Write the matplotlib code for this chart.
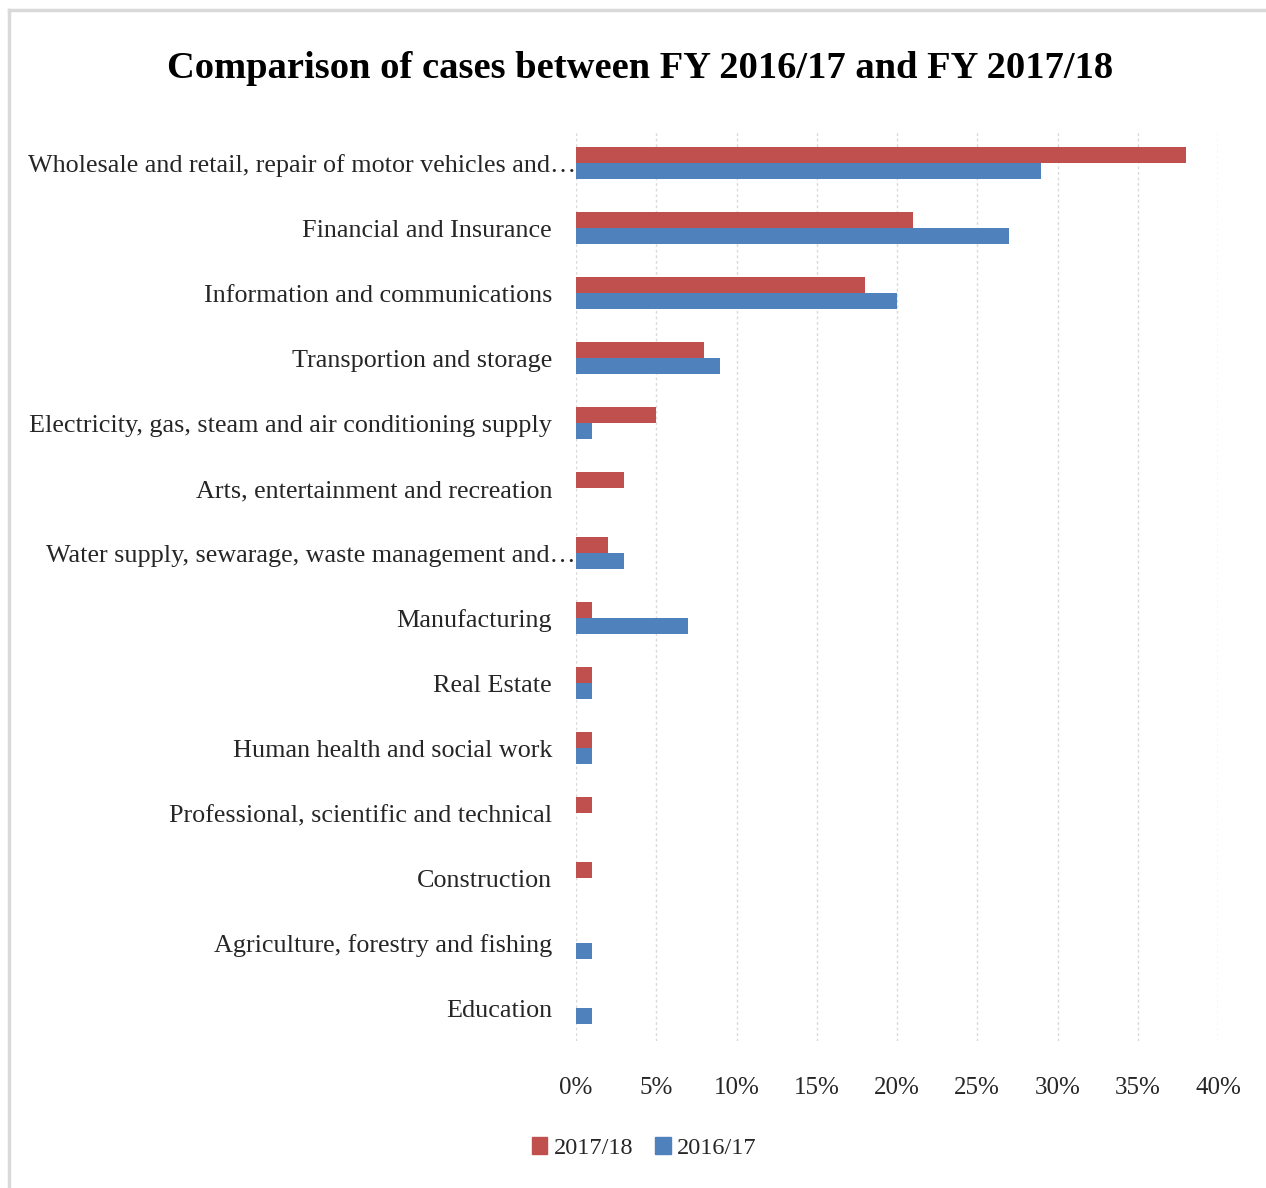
import matplotlib
matplotlib.use("Agg")
import matplotlib.pyplot as plt
import matplotlib.transforms as mtransforms
from matplotlib.lines import Line2D
from matplotlib.patches import Patch
import numpy as np

categories = [
    "Wholesale and retail, repair of motor vehicles and…",
    "Financial and Insurance",
    "Information and communications",
    "Transportion and storage",
    "Electricity, gas, steam and air conditioning supply",
    "Arts, entertainment and recreation",
    "Water supply, sewarage, waste management and…",
    "Manufacturing",
    "Real Estate",
    "Human health and social work",
    "Professional, scientific and technical",
    "Construction",
    "Agriculture, forestry and fishing",
    "Education",
]
truncated = [True, False, False, False, False, False, True, False, False, False, False, False, False, False]
fy1718 = [38, 21, 18, 8, 5, 3, 2, 1, 1, 1, 1, 1, 0, 0]
fy1617 = [29, 27, 20, 9, 1, 0, 3, 7, 1, 1, 0, 0, 1, 1]
xticks = [0, 5, 10, 15, 20, 25, 30, 35, 40]
xticklabels = ["0%", "5%", "10%", "15%", "20%", "25%", "30%", "35%", "40%"]

RED = "#C0504D"
BLUE = "#4F81BD"
FONT = "Liberation Serif"

fig = plt.figure(figsize=(12.66, 11.88), dpi=100)
fig.patch.set_facecolor("white")

# light border lines
fig.add_artist(Line2D([9/1266, 1], [1-10/1188, 1-10/1188], color="#D9D9D9", lw=2.5, transform=fig.transFigure))
fig.add_artist(Line2D([9/1266, 9/1266], [0, 1-10/1188], color="#D9D9D9", lw=2.5, transform=fig.transFigure))

ax = fig.add_axes([576/1266, 1-1040.5/1188, (1218-576)/1266, (1040.5-130.5)/1188])

y = np.arange(len(categories))
h = 0.25
ax.barh(y - h/2, fy1718, height=h, color=RED, label="2017/18", zorder=3)
ax.barh(y + h/2, fy1617, height=h, color=BLUE, label="2016/17", zorder=3)

ax.set_xlim(0, 40)
ax.set_ylim(len(categories) - 0.5, -0.5)
ax.set_xticks(xticks)
ax.set_xticklabels(xticklabels, fontfamily=FONT, fontsize=18, color="#262626")
ax.tick_params(axis="x", length=0, pad=26)
ax.set_yticks(y)
ax.set_yticklabels([])
ax.tick_params(axis="y", length=0)
ax.grid(axis="x", color="#D9D9D9", linestyle=(0, (2, 2)), lw=1, zorder=0)
for s in ["top", "right", "bottom", "left"]:
    ax.spines[s].set_visible(False)

for i, (cat, tr) in enumerate(zip(categories, truncated)):
    offset = 0 if tr else -24
    trans = mtransforms.blended_transform_factory(ax.transAxes, ax.transData) + \
        mtransforms.ScaledTranslation(offset/100, -3/100, fig.dpi_scale_trans)
    ax.text(0, i, cat, transform=trans, ha="right", va="center",
            fontfamily=FONT, fontsize=18.8, color="#262626")

fig.text(640/1266, 1-68/1188, "Comparison of cases between FY 2016/17 and FY 2017/18",
         ha="center", va="center", fontfamily=FONT, fontweight="bold", fontsize=27.7, color="black")

handles = [Patch(color=RED, label="2017/18"), Patch(color=BLUE, label="2016/17")]
leg = fig.legend(handles=handles, loc="center", bbox_to_anchor=(644/1266, 1-1148/1188),
                 ncol=2, frameon=False, handlelength=0.65, handleheight=0.7,
                 handletextpad=0.25, columnspacing=0.9,
                 prop={"family": FONT, "size": 17.5})
for t in leg.get_texts():
    t.set_color("#262626")

fig.savefig("out.png", dpi=100, facecolor="white")
